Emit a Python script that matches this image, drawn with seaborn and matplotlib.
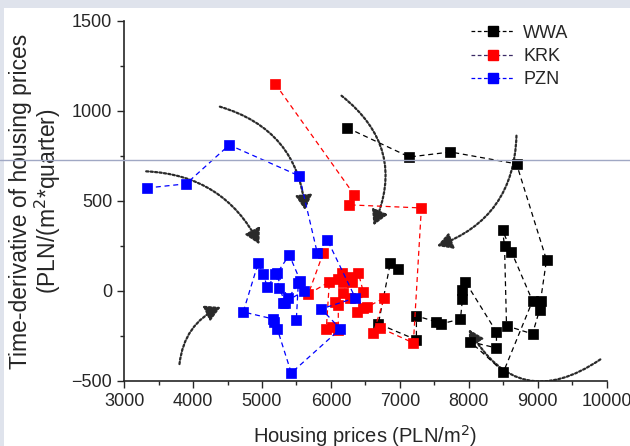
import pandas as pd
import matplotlib
matplotlib.use('Agg')
import matplotlib.pyplot as plt
import seaborn as sns
from matplotlib.patches import FancyArrowPatch, Rectangle
from matplotlib.lines import Line2D

# Données (prix, dérivée temporelle)
wwa_price = [6238, 7138, 7734, 8692, 9127, 9040, 9026, 8924, 8547, 8518, 8489, 8619,
             8924, 8503, 8024, 8401, 8401, 7951, 7908, 7908, 7879, 7603, 7530, 7240,
             7240, 6688, 6862, 6978]
wwa_deriv = [906, 744, 772, 706, 172, -56, -106, -239, -194, 250, 339, 217,
             -56, -450, -283, -317, -228, 50, 6, -44, -156, -183, -172, -139,
             -272, -183, 156, 122]

krk_price = [5193, 6340, 6267, 7312, 7196, 6717, 6615, 6775, 6528, 6470, 6383, 6470,
             6398, 6311, 6281, 6180, 6165, 6107, 6281, 6180, 6064, 6107, 6107, 6020,
             5933, 5977, 5672, 5889]
krk_deriv = [1150, 533, 478, 461, -289, -206, -233, -39, -89, -94, -117, -6,
             100, 50, 78, 50, 100, 67, -39, -11, -61, -78, -217, -200,
             -211, 50, -17, 211]

pzn_price = [3334, 3900, 4525, 5541, 5802, 5948, 6354, 5860, 6136, 5425, 5222, 5178,
             5164, 4728, 4946, 5018, 5076, 5222, 5396, 5556, 5381, 5193, 5251, 5338,
             5309, 5614, 5527, 5498]
pzn_deriv = [572, 595, 811, 639, 211, 283, -39, -100, -211, -456, -211, -172,
             -156, -117, 156, 94, 22, 100, 200, 56, -39, 94, 17, -67,
             -67, 0, 44, -161]

cities = ['WWA', 'KRK', 'PZN']
colors = {'WWA': 'black', 'KRK': 'red', 'PZN': 'blue'}
legend_line = {'WWA': 'black', 'KRK': '#3b2a66', 'PZN': 'blue'}

# flèches pointillées (départ, arrivée, courbure)
arrows = [
    ((3280, 665), (4980, 245), -0.3),
    ((4350, 1028), (5628, 433), -0.35),
    ((6122, 1094), (6601, 350), -0.4),
    ((8692, 878), (7501, 244), -0.35),
    ((3799, -422), (4438, -83), -0.3),
    ((9941, -372), (7980, -200), -0.55),
]

data = {
    'WWA': pd.DataFrame({'price': wwa_price, 'deriv': wwa_deriv}),
    'KRK': pd.DataFrame({'price': krk_price, 'deriv': krk_deriv}),
    'PZN': pd.DataFrame({'price': pzn_price, 'deriv': pzn_deriv}),
}

sns.set_style('ticks')
plt.rcParams['font.family'] = ['Liberation Sans', 'DejaVu Sans']

fig = plt.figure(figsize=(6.3, 4.46), dpi=100)
fig.patch.set_facecolor('#dfe3ec')
fig.patches.append(Rectangle((4 / 630, 0), 1, 1 - 8 / 446, transform=fig.transFigure,
                             facecolor='white', edgecolor='none', zorder=-10))
ax = fig.add_axes([0.197, 0.146, 0.766, 0.807])
ax.set_facecolor('none')

for c in cities:
    sns.lineplot(data=data[c], x='price', y='deriv', sort=False, estimator=None,
                 ax=ax, color=colors[c], linestyle=(0, (4, 3)), linewidth=0.9,
                 marker='s', markersize=7, markeredgecolor=colors[c],
                 markeredgewidth=0.5, zorder=3)

for (x0, y0), (x1, y1), rad in arrows:
    ar = FancyArrowPatch((x0, y0), (x1, y1), connectionstyle=f'arc3,rad={rad}',
                         arrowstyle='-|>,head_length=9,head_width=5',
                         linestyle=(0, (1, 1)), linewidth=1.6, color='#2a2a2a',
                         zorder=2)
    ax.add_patch(ar)

ax.set_xlim(3000, 10000)
ax.set_ylim(-500, 1500)
ax.set_xticks(range(3000, 10001, 1000))
ax.set_xticks(range(3500, 10000, 1000), minor=True)
ax.set_yticks(range(-500, 1501, 500))
ax.set_yticks(range(-250, 1500, 500), minor=True)
ax.tick_params(axis='both', which='major', labelsize=13, direction='out', length=5, width=1)
ax.tick_params(axis='both', which='minor', direction='out', length=3, width=1)
sns.despine(ax=ax)
for s in ['left', 'bottom']:
    ax.spines[s].set_linewidth(1.2)

ax.set_xlabel('Housing prices (PLN/m$^2$)', fontsize=14.5, labelpad=10)
ax.set_ylabel('Time-derivative of housing prices\n(PLN/(m$^2$*quarter)', fontsize=16.5,
              labelpad=6, linespacing=1.05)

handles = [Line2D([0], [0], color=legend_line[c], linestyle=(0, (3, 2)), linewidth=0.9,
                  marker='s', markersize=7, markerfacecolor=colors[c],
                  markeredgecolor=colors[c]) for c in cities]
ax.legend(handles, cities, loc='upper right', bbox_to_anchor=(0.955, 1.035), frameon=False,
          fontsize=13, handlelength=2.4, handletextpad=0.5, labelspacing=0.35)

# ligne horizontale parasite de la capture
fig.add_artist(Line2D([0, 1], [1 - 160 / 446] * 2, transform=fig.transFigure,
                      color='#a0a8c4', linewidth=1))

fig.savefig('out.png', dpi=100)
